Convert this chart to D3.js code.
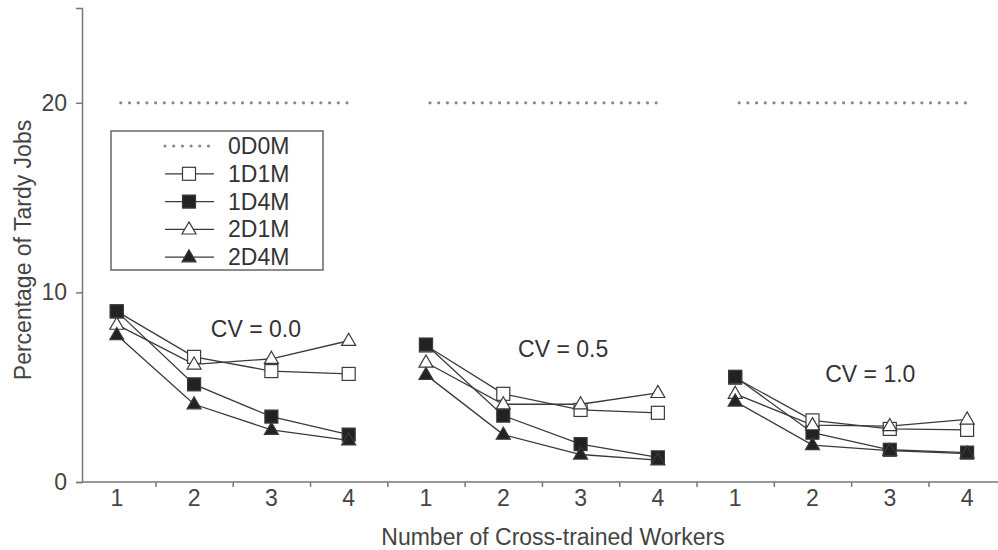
<!DOCTYPE html>
<html>
<head>
<meta charset="utf-8">
<script src="https://cdn.jsdelivr.net/npm/d3@7.9.0/dist/d3.min.js"></script>
<style>
  body { margin: 0; background: #fff; }
  svg { display: block; font-family: "Liberation Sans", Arial, sans-serif; }
</style>
</head>
<body>
<svg width="998" height="550"></svg>
<script>
// CV groups and the worker counts in each group
const groups = ['CV = 0.0', 'CV = 0.5', 'CV = 1.0'];
const workers = [1, 2, 3, 4];
const yTicks = [0, 10, 20];

// percentage of tardy jobs, 4 values per CV group
const base0D0M = [20, 20, 20];
const s1D1M = [9.0, 6.6, 5.85, 5.7,   7.2, 4.65, 3.8, 3.65,   5.5, 3.25, 2.8, 2.75];
const s1D4M = [9.0, 5.15, 3.45, 2.5,  7.25, 3.5, 2.0, 1.3,    5.55, 2.6, 1.7, 1.55];
const s2D1M = [8.3, 6.2, 6.5, 7.45,   6.3, 4.1, 4.1, 4.7,     4.65, 3.0, 2.95, 3.3];
const s2D4M = [7.75, 4.1, 2.75, 2.2,  5.65, 2.5, 1.45, 1.15,  4.25, 1.95, 1.65, 1.5];

// where the CV label sits in each group (value units)
const cvLabelY = [7.65, 6.6, 5.3];

const series = [
  { name: '1D1M', values: s1D1M, shape: 'square', filled: false },
  { name: '1D4M', values: s1D4M, shape: 'square', filled: true },
  { name: '2D1M', values: s2D1M, shape: 'triangle', filled: false },
  { name: '2D4M', values: s2D4M, shape: 'triangle', filled: true },
];

const svg = d3.select('svg');
const ink = '#3a3a3a';
const axisColor = '#777';
const textColor = '#444';
const fs = 23;

// index scale: 0..11 across the three groups
const x = d3.scaleLinear().domain([-0.45, 11.4]).range([82, 998]);
const y = d3.scaleLinear().domain([0, 25]).range([482, 8]);

// y axis
const yAxis = svg.append('g')
  .attr('transform', 'translate(82,0)')
  .call(d3.axisLeft(y).tickValues(yTicks).tickSize(6).tickPadding(9));
yAxis.select('.domain').attr('stroke', axisColor).attr('stroke-width', 1.5);
yAxis.selectAll('.tick line').attr('stroke', axisColor).attr('stroke-width', 1.5);
yAxis.selectAll('.tick text').attr('font-size', fs).attr('fill', textColor)
  .attr('font-family', '"Liberation Sans", Arial, sans-serif');

// x axis: labels at each index, ticks between them
const idx = d3.range(groups.length * workers.length);
const xAxis = svg.append('g')
  .attr('transform', 'translate(0,482)')
  .call(d3.axisBottom(x).tickValues(idx.slice(0, -1).map(i => i + 0.5)).tickSize(5).tickFormat(''));
xAxis.select('.domain').attr('stroke', axisColor).attr('stroke-width', 1.5)
  .attr('d', `M${x.range()[0]},0H${x.range()[1]}`);
xAxis.selectAll('.tick line').attr('stroke', axisColor).attr('stroke-width', 1.5);
xAxis.selectAll('.lbl')
  .data(idx)
  .join('text')
  .attr('class', 'lbl')
  .attr('x', i => x(i))
  .attr('y', 24)
  .attr('text-anchor', 'middle')
  .attr('font-size', fs)
  .attr('fill', textColor)
  .text(i => workers[i % workers.length]);

// axis titles
svg.append('text')
  .attr('x', 553).attr('y', 545)
  .attr('text-anchor', 'middle')
  .attr('font-size', fs).attr('fill', textColor)
  .text('Number of Cross-trained Workers');
svg.append('text')
  .attr('transform', 'translate(31,250) rotate(-90)')
  .attr('text-anchor', 'middle')
  .attr('font-size', fs).attr('fill', textColor)
  .text('Percentage of Tardy Jobs');

// dotted style for 0D0M
function dotted(sel) {
  sel.attr('stroke', '#888').attr('stroke-width', 3.2)
    .attr('stroke-linecap', 'round')
    .attr('stroke-dasharray', '0,8.7');
}

// 0D0M dotted reference lines
groups.forEach((g, gi) => {
  svg.append('line')
    .attr('x1', x(gi * 4) + 4).attr('x2', x(gi * 4 + 3))
    .attr('y1', y(base0D0M[gi])).attr('y2', y(base0D0M[gi]))
    .call(dotted);
});

const sqSize = 13, triSize = 14;
function drawMarker(sel, shape, filled) {
  if (shape === 'square') {
    sel.append('rect')
      .attr('x', -sqSize / 2).attr('y', -sqSize / 2)
      .attr('width', sqSize).attr('height', sqSize);
  } else {
    const h = triSize * 0.866;
    sel.append('path')
      .attr('d', `M0,${-h * 0.62}L${triSize / 2},${h * 0.38}L${-triSize / 2},${h * 0.38}Z`);
  }
  sel.selectAll('rect,path')
    .attr('fill', filled ? '#222' : '#fff')
    .attr('stroke', ink).attr('stroke-width', 1.2);
}

const line = d3.line().x(d => x(d.i)).y(d => y(d.v));

// lines first, markers on top
series.forEach(s => {
  groups.forEach((g, gi) => {
    const pts = workers.map((w, wi) => ({ i: gi * 4 + wi, v: s.values[gi * 4 + wi] }));
    svg.append('path')
      .attr('d', line(pts))
      .attr('fill', 'none')
      .attr('stroke', ink).attr('stroke-width', 1.3);
  });
});
series.forEach(s => {
  s.values.forEach((v, i) => {
    const m = svg.append('g').attr('transform', `translate(${x(i)},${y(v)})`);
    drawMarker(m, s.shape, s.filled);
  });
});

// CV labels
groups.forEach((g, gi) => {
  svg.append('text')
    .attr('x', x(gi * 4 + 1.8) - gi * 2).attr('y', y(cvLabelY[gi]))
    .attr('text-anchor', 'middle')
    .attr('font-size', fs).attr('fill', '#333')
    .text(g);
});

// legend
const legend = svg.append('g').attr('transform', 'translate(111,131)');
legend.append('rect')
  .attr('width', 212).attr('height', 139)
  .attr('fill', '#fff').attr('stroke', '#666').attr('stroke-width', 1.5);
const legendItems = [{ name: '0D0M', dotted: true }].concat(series);
legendItems.forEach((s, k) => {
  const ly = 15 + k * 27.8;
  const row = legend.append('g').attr('transform', `translate(0,${ly})`);
  const ln = row.append('line').attr('x1', 54).attr('x2', 103);
  if (s.dotted) {
    ln.call(dotted);
  } else {
    ln.attr('stroke', ink).attr('stroke-width', 1.3);
    const m = row.append('g').attr('transform', 'translate(78,0)');
    drawMarker(m, s.shape, s.filled);
  }
  row.append('text')
    .attr('x', 117).attr('y', 8)
    .attr('font-size', fs).attr('fill', '#333')
    .text(s.name);
});
</script>
</body>
</html>
